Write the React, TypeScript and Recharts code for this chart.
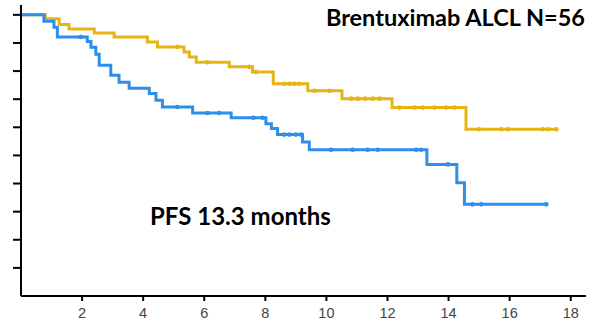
import React from 'react';
import { LineChart, Line, XAxis, YAxis } from 'recharts';

// Kaplan-Meier steps: time (months) of each drop and survival after it
const goldEventT = [0, 0.8, 1.25, 1.57, 2.4, 3.05, 4.14, 4.47, 5.34, 5.51, 5.74, 6.82, 7.58, 8.26, 9.39, 10.51, 12.15, 14.57];
const goldSurv = [1, 0.986, 0.966, 0.95, 0.935, 0.921, 0.903, 0.886, 0.868, 0.85, 0.831, 0.815, 0.797, 0.755, 0.73, 0.702, 0.67, 0.593];
const goldCensorT = [5.12, 6.11, 7.48, 7.7, 8.62, 8.79, 8.95, 9.11, 9.61, 10.1, 10.81, 11.03, 11.27, 11.52, 11.74, 12.39, 12.89, 13.16, 13.54, 13.92, 14.2, 15.0, 15.73, 15.94, 17.09, 17.26, 17.53];

const blueEventT = [0, 0.75, 1.08, 1.19, 2.17, 2.29, 2.45, 2.56, 2.94, 3.21, 3.54, 4.2, 4.42, 4.63, 5.62, 6.88, 8.02, 8.2, 8.4, 9.22, 9.44, 13.29, 14.27, 14.52];
const blueSurv = [1, 0.977, 0.956, 0.921, 0.905, 0.885, 0.86, 0.821, 0.785, 0.76, 0.739, 0.72, 0.696, 0.672, 0.651, 0.634, 0.613, 0.596, 0.574, 0.548, 0.52, 0.468, 0.403, 0.326];
const blueCensorT = [1.96, 5.12, 6.11, 6.49, 7.61, 7.91, 8.62, 8.79, 9.0, 9.17, 10.15, 10.86, 11.35, 11.68, 12.94, 13.1, 13.98, 14.78, 15.07, 17.2];

const xTicks = [2, 4, 6, 8, 10, 12, 14, 16, 18];
const yTicks = [0.1, 0.2, 0.3, 0.4, 0.5, 0.6, 0.7, 0.8, 0.9, 1.0];

const GOLD = '#E6B514';
const BLUE = '#2D8FEA';

// merge drops and censor marks into one step series
function buildCurve(eventT: number[], surv: number[], censorT: number[]) {
  const survAt = (t: number) => {
    let v = surv[0];
    eventT.forEach((e, i) => { if (e <= t) v = surv[i]; });
    return v;
  };
  const pts = [
    ...eventT.map((t, i) => ({ t, v: surv[i], c: false })),
    ...censorT.map(t => ({ t, v: survAt(t), c: true })),
  ];
  return pts.sort((a, b) => a.t - b.t);
}

const goldData = buildCurve(goldEventT, goldSurv, goldCensorT);
const blueData = buildCurve(blueEventT, blueSurv, blueCensorT);

const censorDot = (color: string) => (props: any) => {
  const { cx, cy, payload, index } = props;
  if (!payload || !payload.c) return <g key={`n${index}`} />;
  return <circle key={`c${index}`} cx={cx} cy={cy} r={2.3} fill={color} />;
};

const MonthTick = (props: any) => {
  const { x, y, payload } = props;
  return (
    <text x={x} y={y + 11} textAnchor="middle" fontSize={14.5} fill="#444"
      fontFamily="Liberation Sans, Arial, sans-serif">
      {payload.value}
    </text>
  );
};

export default function App() {
  return (
    <div style={{ position: 'absolute', left: 0, top: 0, width: 598, height: 322, background: '#fff' }}>
      <LineChart width={598} height={322} margin={{ top: 5, right: 12, left: 13, bottom: 0 }}>
        <XAxis
          type="number"
          dataKey="t"
          domain={[0, 18.5]}
          ticks={xTicks}
          allowDataOverflow
          height={26}
          tickSize={5}
          tickMargin={6}
          axisLine={{ stroke: '#000', strokeWidth: 2 }}
          tickLine={{ stroke: '#000', strokeWidth: 2 }}
          tick={<MonthTick />}
        />
        <YAxis
          type="number"
          domain={[0, 1.035]}
          ticks={yTicks}
          allowDataOverflow
          width={8}
          tickSize={8}
          tickFormatter={() => ''}
          axisLine={{ stroke: '#000', strokeWidth: 2 }}
          tickLine={{ stroke: '#000', strokeWidth: 2 }}
        />
        <Line
          data={goldData}
          dataKey="v"
          type="stepAfter"
          stroke={GOLD}
          strokeWidth={3}
          dot={censorDot(GOLD)}
          activeDot={false}
          isAnimationActive={false}
        />
        <Line
          data={blueData}
          dataKey="v"
          type="stepAfter"
          stroke={BLUE}
          strokeWidth={3}
          dot={censorDot(BLUE)}
          activeDot={false}
          isAnimationActive={false}
        />
      </LineChart>
      <svg width={598} height={322} style={{ position: 'absolute', left: 0, top: 0, pointerEvents: 'none' }}>
        <text x={585} y={26} textAnchor="end" fontFamily="Lato, sans-serif" fontWeight="bold" fontSize={23.5} fill="#000">
          Brentuximab ALCL N=56
        </text>
        <text x={150} y={225} textAnchor="start" fontFamily="Lato, sans-serif" fontWeight="bold" fontSize={24} fill="#000">
          PFS 13.3 months
        </text>
      </svg>
    </div>
  );
}
